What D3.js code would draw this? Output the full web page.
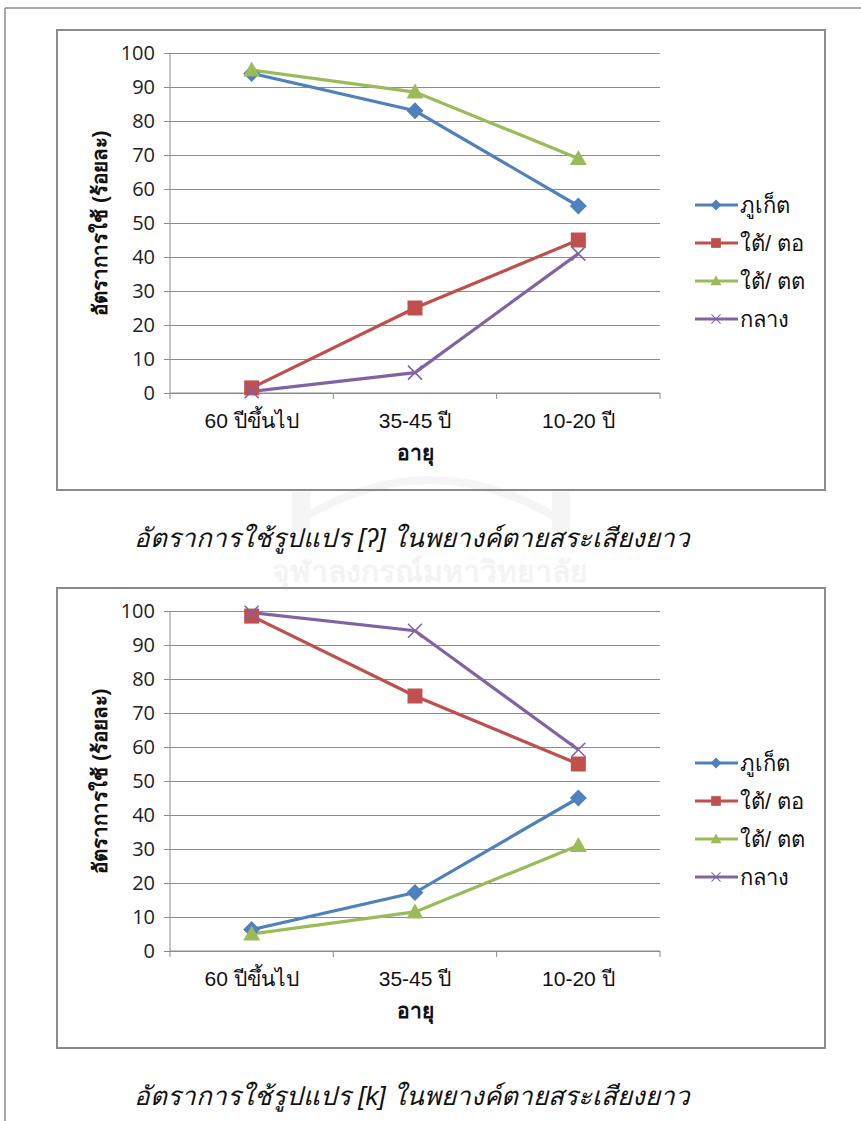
<!DOCTYPE html>
<html>
    <head>
        <meta charset="utf-8" />
        <script src="https://d3js.org/d3.v7.min.js"></script>
        <style type="text/css">
            body {
                margin: 0;
                background: white;
            }
            svg#mainSvg {
                display: block;
                font-family: "Liberation Sans", "DejaVu Sans", sans-serif;
            }
            .grid line {
                stroke: #8c8c8c;
                stroke-width: 1;
            }
            .grid path {
                display: none;
            }
        </style>
    </head>

    <body>
        <svg id="mainSvg" width="861" height="1121"></svg>

        <script type="text/javascript">
            // Data
            const categories = ["60 ปีขึ้นไป", "35-45 ปี", "10-20 ปี"];
            const seriesNames = ["ภูเก็ต", "ใต้/ ตอ", "ใต้/ ตต", "กลาง"];
            const yTicks = [0, 10, 20, 30, 40, 50, 60, 70, 80, 90, 100];

            // chart 1: [ʔ]
            const glottalPhuket = [94, 83, 55];
            const glottalSouthTO = [1.5, 25, 45];
            const glottalSouthTT = [95, 88.5, 69];
            const glottalCentral = [0.5, 6, 41];

            // chart 2: [k]
            const velarPhuket = [6.3, 17.2, 45];
            const velarSouthTO = [98.5, 75, 55];
            const velarSouthTT = [5, 11.5, 31];
            const velarCentral = [99.5, 94.2, 59.2];

            const captions = [
                "อัตราการใช้รูปแปร [ʔ] ในพยางค์ตายสระเสียงยาว",
                "อัตราการใช้รูปแปร [k] ในพยางค์ตายสระเสียงยาว",
            ];
        </script>

        <script type="text/javascript">
            const svg = d3.select(mainSvg);
            const colors = ["#4f81bd", "#c0504d", "#9bbb59", "#8064a2"];
            const markers = ["diamond", "square", "triangle", "x"];

            // page frame
            svg.append("line")
                .attr("x1", 5).attr("y1", 8).attr("x2", 861).attr("y2", 8)
                .attr("stroke", "#8a8a8a").attr("stroke-width", 1.5);
            svg.append("line")
                .attr("x1", 5).attr("y1", 8).attr("x2", 5).attr("y2", 1121)
                .attr("stroke", "#8a8a8a").attr("stroke-width", 1.5);

            // faint watermark behind the first caption
            const wm = svg.append("g").attr("opacity", 0.05);
            wm.append("path")
                .attr("d", "M 300 520 Q 430 440 560 520")
                .attr("fill", "none")
                .attr("stroke", "#555")
                .attr("stroke-width", 8);
            wm.append("rect").attr("x", 292).attr("y", 492).attr("width", 18).attr("height", 40).attr("fill", "#555");
            wm.append("rect").attr("x", 552).attr("y", 492).attr("width", 18).attr("height", 40).attr("fill", "#555");
            wm.append("text")
                .attr("x", 430)
                .attr("y", 582)
                .attr("text-anchor", "middle")
                .attr("font-size", 30)
                .attr("font-weight", "bold")
                .attr("fill", "#333")
                .text("จุฬาลงกรณ์มหาวิทยาลัย");

            function markerPath(type) {
                if (type === "x") return "M -7 -7 L 7 7 M -7 7 L 7 -7";
                if (type === "diamond") return "M 0 -8.5 L 8.5 0 L 0 8.5 L -8.5 0 Z";
                if (type === "square") return "M -7.5 -7.5 H 7.5 V 7.5 H -7.5 Z";
                return "M 0 -8.5 L 8.5 6.5 L -8.5 6.5 Z";
            }

            function drawMarker(g, type, color) {
                const p = g.append("path").attr("d", markerPath(type));
                if (type === "x") {
                    p.attr("fill", "none").attr("stroke", color).attr("stroke-width", 1.6);
                } else {
                    p.attr("fill", color);
                }
            }

            function drawChart(top, values, caption) {
                // outer chart box
                svg.append("rect")
                    .attr("x", 57).attr("y", top)
                    .attr("width", 768).attr("height", 460)
                    .attr("fill", "none")
                    .attr("stroke", "#8a8a8a")
                    .attr("stroke-width", 2);

                const plotLeft = 170, plotRight = 660;
                const plotTop = top + 23, plotBottom = top + 363;

                const x = d3.scaleBand().domain(categories).range([plotLeft, plotRight]).padding(0);
                const y = d3.scaleLinear().domain([0, 100]).range([plotBottom, plotTop]);

                // gridlines + y tick labels
                const yAxis = svg.append("g")
                    .attr("class", "grid")
                    .attr("transform", "translate(" + plotLeft + ",0)")
                    .call(d3.axisLeft(y).tickValues(yTicks).tickSize(-(plotRight - plotLeft)).tickPadding(15));
                yAxis.selectAll("text")
                    .attr("font-size", 20)
                    .attr("fill", "#222")
                    .attr("font-family", "'Open Sans', 'Liberation Sans', sans-serif");
                yAxis.selectAll("line").attr("x1", -6);

                // y axis line
                svg.append("line")
                    .attr("x1", plotLeft).attr("x2", plotLeft)
                    .attr("y1", plotTop).attr("y2", plotBottom)
                    .attr("stroke", "#8c8c8c");

                // x axis line and ticks at category boundaries
                svg.append("line")
                    .attr("x1", plotLeft).attr("x2", plotRight)
                    .attr("y1", plotBottom).attr("y2", plotBottom)
                    .attr("stroke", "#8c8c8c");
                const edges = categories.map((c) => x(c)).concat([plotRight]);
                svg.append("g")
                    .selectAll("line")
                    .data(edges)
                    .enter()
                    .append("line")
                    .attr("x1", (d) => d).attr("x2", (d) => d)
                    .attr("y1", plotBottom).attr("y2", plotBottom + 6)
                    .attr("stroke", "#8c8c8c");

                // category labels
                svg.append("g")
                    .selectAll("text")
                    .data(categories)
                    .enter()
                    .append("text")
                    .attr("x", (d) => x(d) + x.bandwidth() / 2)
                    .attr("y", plotBottom + 35)
                    .attr("text-anchor", "middle")
                    .attr("font-size", 21)
                    .attr("fill", "#111")
                    .text((d) => d);

                // axis titles
                svg.append("text")
                    .attr("x", (plotLeft + plotRight) / 2)
                    .attr("y", plotBottom + 67)
                    .attr("text-anchor", "middle")
                    .attr("font-size", 21)
                    .attr("font-weight", "bold")
                    .attr("fill", "#111")
                    .text("อายุ");
                svg.append("text")
                    .attr("transform", "translate(107," + (plotTop + plotBottom) / 2 + ") rotate(-90)")
                    .attr("text-anchor", "middle")
                    .attr("font-size", 20.5)
                    .attr("font-weight", "bold")
                    .attr("fill", "#111")
                    .text("อัตราการใช้ (ร้อยละ)");

                // series lines
                const line = d3.line()
                    .x((d, i) => x(categories[i]) + x.bandwidth() / 2)
                    .y((d) => y(d));

                values.forEach((vals, s) => {
                    svg.append("path")
                        .datum(vals)
                        .attr("d", line)
                        .attr("fill", "none")
                        .attr("stroke", colors[s])
                        .attr("stroke-width", 3.2);
                });
                values.forEach((vals, s) => {
                    vals.forEach((v, i) => {
                        const g = svg.append("g")
                            .attr("transform", "translate(" + (x(categories[i]) + x.bandwidth() / 2) + "," + y(v) + ")");
                        drawMarker(g, markers[s], colors[s]);
                    });
                });

                // legend
                const legend = svg.append("g")
                    .selectAll("g")
                    .data(seriesNames)
                    .enter()
                    .append("g")
                    .attr("transform", (d, i) => "translate(695," + (top + 175 + i * 38) + ")");
                legend.append("line")
                    .attr("x1", 0).attr("x2", 43)
                    .attr("stroke", (d, i) => colors[i])
                    .attr("stroke-width", 3);
                legend.each(function (d, i) {
                    const g = d3.select(this).append("g").attr("transform", "translate(21,0) scale(0.65)");
                    drawMarker(g, markers[i], colors[i]);
                });
                legend.append("text")
                    .attr("x", 45)
                    .attr("y", 8)
                    .attr("font-size", 22)
                    .attr("fill", "#111")
                    .text((d) => d);

                // caption under the box
                svg.append("text")
                    .attr("x", 412)
                    .attr("y", top + 517)
                    .attr("text-anchor", "middle")
                    .attr("font-size", 26)
                    .attr("font-style", "italic")
                    .attr("fill", "#111")
                    .text(caption);
            }

            drawChart(30, [glottalPhuket, glottalSouthTO, glottalSouthTT, glottalCentral], captions[0]);
            drawChart(588, [velarPhuket, velarSouthTO, velarSouthTT, velarCentral], captions[1]);
        </script>
    </body>
</html>
